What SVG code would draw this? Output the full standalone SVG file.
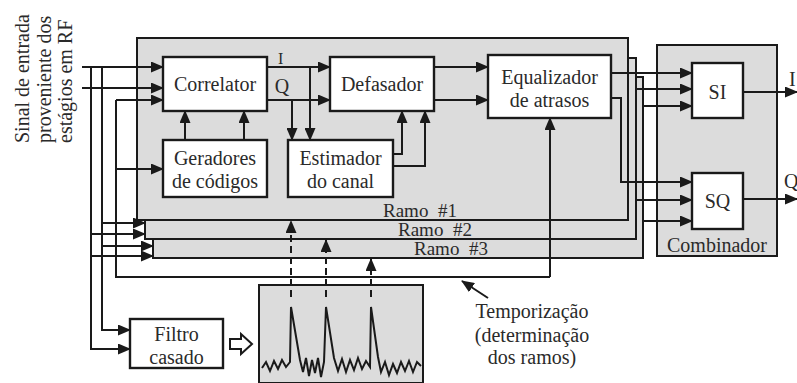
<svg xmlns="http://www.w3.org/2000/svg" width="797" height="383" viewBox="0 0 797 383">
<defs>
<marker id="ah" markerUnits="userSpaceOnUse" markerWidth="13" markerHeight="11" refX="12" refY="5.5" orient="auto">
<path d="M0,0 L13,5.5 L0,11 Z" fill="#1a1a1a"/>
</marker>
<style>
text{font-family:'Liberation Serif','DejaVu Serif',serif;font-size:20px;fill:#2a2a2a}
.c{text-anchor:middle}
.r{font-size:19px}
.g{fill:#dcdcdc;stroke:#1a1a1a;stroke-width:2}
.w{fill:#ffffff;stroke:#1a1a1a;stroke-width:2.4}
.l{fill:none;stroke:#1a1a1a;stroke-width:2}
.a{fill:none;stroke:#1a1a1a;stroke-width:2;marker-end:url(#ah)}
.d{fill:none;stroke:#1a1a1a;stroke-width:2;stroke-dasharray:7,4;marker-end:url(#ah)}
</style>
</defs>
<rect width="797" height="383" fill="#ffffff"/>

<g id="ramo3"><rect class="g" x="153" y="77" width="490" height="181"/><text class="r" x="414" y="255" xml:space="preserve">Ramo  #3</text></g>
<g id="ramo2"><rect class="g" x="145" y="58" width="491" height="181"/><text class="r" x="398" y="236" xml:space="preserve">Ramo  #2</text></g>
<g id="ramo1"><rect class="g" x="137" y="38" width="491" height="182"/><text class="r" x="383" y="217" xml:space="preserve">Ramo  #1</text></g>
<g id="combinador"><rect class="g" x="657" y="45" width="120" height="211"/><text class="c" x="717" y="252">Combinador</text></g>

<g id="correlator"><rect class="w" x="163" y="57" width="104" height="54"/><text class="c" x="215" y="91">Correlator</text></g>
<g id="defasador"><rect class="w" x="330" y="57" width="104" height="54"/><text class="c" x="382" y="91">Defasador</text></g>
<g id="equalizador"><rect class="w" x="488" y="55" width="123" height="63"/><text class="c" x="549.5" y="84">Equalizador</text><text class="c" x="549.5" y="107">de atrasos</text></g>
<g id="geradores"><rect class="w" x="163" y="140" width="104" height="57"/><text class="c" x="215" y="165">Geradores</text><text class="c" x="215" y="188">de códigos</text></g>
<g id="estimador"><rect class="w" x="288" y="140" width="105" height="57"/><text class="c" x="340.5" y="165">Estimador</text><text class="c" x="340.5" y="188">do canal</text></g>
<g id="si"><rect class="w" x="692" y="63" width="51" height="55"/><text class="c" x="717.5" y="99">SI</text></g>
<g id="sq"><rect class="w" x="692" y="173" width="51" height="56"/><text class="c" x="717.5" y="208">SQ</text></g>
<g id="filtro"><rect class="w" x="130" y="319" width="93" height="49"/><text class="c" x="176.5" y="341">Filtro</text><text class="c" x="176.5" y="364">casado</text></g>
<g id="pulsos"><rect class="g" x="259" y="285" width="164" height="98"/>
<path class="l" d="M262,368 L266,362 L270,371 L274,361 L278,369 L282,360 L286,367 L290,362 L291,307 L300,360 L303,372 L306,358 L309,376 L312,360 L315,373 L318,358 L321,377 L324,362 L326,307 L334,358 L338,371 L342,359 L346,372 L350,360 L354,370 L358,358 L362,369 L366,361 L370,367 L371,307 L378,357 L381,372 L385,362 L389,375 L393,364 L397,373 L401,362 L405,371 L409,361 L413,372 L417,362 L421,366"/>
</g>

<g id="conectores">
<line class="a" x1="82" y1="67" x2="163" y2="67"/>
<line class="a" x1="82" y1="88" x2="163" y2="88"/>
<polyline class="a" points="91,67 91,349 130,349"/>
<polyline class="a" points="102,67 102,330 130,330"/>
<line class="a" x1="102" y1="223" x2="145" y2="223"/>
<line class="a" x1="91" y1="234" x2="145" y2="234"/>
<line class="a" x1="102" y1="246" x2="153" y2="246"/>
<line class="a" x1="91" y1="256" x2="153" y2="256"/>
<polyline class="a" points="550,277 550,118"/>
<polyline class="l" points="550,277 116,277 116,100"/>
<line class="a" x1="116" y1="100" x2="163" y2="100"/>
<line class="a" x1="116" y1="169" x2="163" y2="169"/>
<line class="a" x1="185" y1="140" x2="185" y2="111"/>
<line class="a" x1="244" y1="140" x2="244" y2="111"/>
<line class="a" x1="267" y1="67" x2="330" y2="67"/>
<line class="a" x1="267" y1="100" x2="330" y2="100"/>
<line class="a" x1="310" y1="67" x2="310" y2="140"/>
<line class="a" x1="292" y1="100" x2="292" y2="140"/>
<polyline class="a" points="393,154 402,154 402,111"/>
<polyline class="a" points="393,166 425,166 425,111"/>
<line class="a" x1="434" y1="67" x2="488" y2="67"/>
<line class="a" x1="434" y1="100" x2="488" y2="100"/>
<line class="a" x1="611" y1="73" x2="692" y2="73"/>
<polyline class="a" points="611,98 621,98 621,182 692,182"/>
<line class="a" x1="636" y1="89" x2="692" y2="89"/>
<line class="a" x1="643" y1="106" x2="692" y2="106"/>
<line class="a" x1="636" y1="200" x2="692" y2="200"/>
<line class="a" x1="643" y1="221" x2="692" y2="221"/>
<line class="a" x1="743" y1="92" x2="797" y2="92"/>
<line class="a" x1="743" y1="199" x2="797" y2="199"/>
<line class="d" x1="291" y1="297" x2="291" y2="221"/>
<line class="d" x1="326" y1="297" x2="326" y2="240"/>
<line class="d" x1="371" y1="297" x2="371" y2="259"/>
<path d="M230,339 L241,339 L241,334 L252,344 L241,354 L241,349 L230,349 Z" fill="#ffffff" stroke="#1a1a1a" stroke-width="2"/>
<line class="a" x1="488" y1="298" x2="462" y2="281"/>
</g>

<g id="rotulos">
<text x="278" y="64" style="font-size:16px">I</text>
<text class="c" x="282" y="93">Q</text>
<text x="789" y="86">I</text>
<text x="784" y="188">Q</text>
<text transform="translate(29,143) rotate(-90)">Sinal de entrada</text>
<text transform="translate(51,143) rotate(-90)">proveniente dos</text>
<text transform="translate(72,143) rotate(-90)">estágios em RF</text>
<text class="c" x="532" y="318">Temporização</text>
<text class="c" x="532" y="342">(determinação</text>
<text class="c" x="532" y="364">dos ramos)</text>
</g>
</svg>
